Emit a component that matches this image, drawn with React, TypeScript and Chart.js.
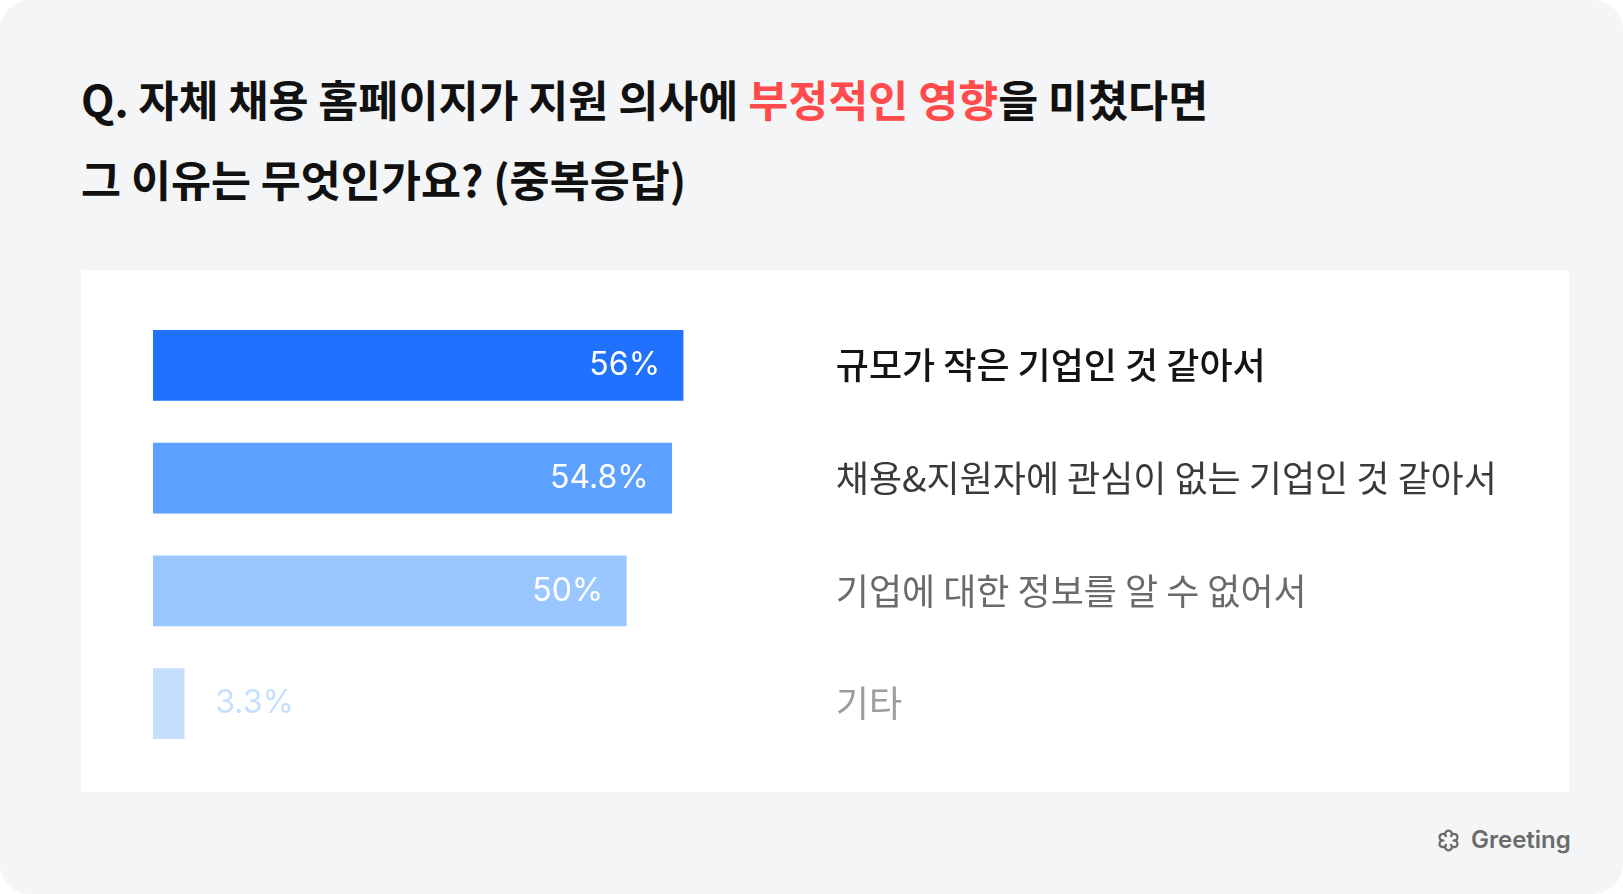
import React, { useEffect, useRef } from "react";
import { Chart, registerables } from "chart.js";

Chart.register(...registerables);

// ---- data ----
const categories = [
  "규모가 작은 기업인 것 같아서",
  "채용&지원자에 관심이 없는 기업인 것 같아서",
  "기업에 대한 정보를 알 수 없어서",
  "기타",
];
const values = [56, 54.8, 50, 3.3];
const barColors = ["#2171ff", "#5ca1ff", "#9ac7ff", "#c6dfff"];
const labelColors = ["#141414", "#3a3a3a", "#6a6a6a", "#9c9c9c"];
const valueLabelColors = ["#ffffff", "#ffffff", "#ffffff", "#c6dfff"];
const xMin = 0;
const xMax = 71.5;

const titleLine1Before = "Q. 자체 채용 홈페이지가 지원 의사에 ";
const titleHighlight = "부정적인 영향";
const titleLine1After = "을 미쳤다면";
const titleLine2 = "그 이유는 무엇인가요? (중복응답)";
const brandName = "Greeting";

const PANEL_W = 1488;
const PANEL_H = 522;
const PLOT_RIGHT = 748.8;

const valueLabelPlugin = {
  id: "valueLabels",
  afterDatasetsDraw(chart: any) {
    const ctx = chart.ctx;
    const meta = chart.getDatasetMeta(0);
    ctx.save();
    ctx.font = '400 32px Inter, "Noto Sans", sans-serif';
    ctx.textBaseline = "middle";
    meta.data.forEach((bar: any, i: number) => {
      const p = bar.getProps(["x", "y", "base"], true);
      const width = p.x - p.base;
      const inside = width > 120;
      ctx.fillStyle = valueLabelColors[i];
      ctx.textAlign = inside ? "right" : "left";
      ctx.fillText(values[i] + "%", inside ? p.x - 23 : p.x + 31, p.y);
    });
    ctx.restore();
  },
};

function flowerPath(): string {
  const cx = 12, cy = 11.5, rv = 5, r = 3.3;
  const n = 6;
  let d = "";
  for (let k = 0; k <= n; k++) {
    const a = ((-90 + 30 + (360 / n) * k) * Math.PI) / 180;
    const x = (cx + rv * Math.cos(a)).toFixed(2);
    const y = (cy + rv * Math.sin(a)).toFixed(2);
    if (k === 0) d += `M${x} ${y}`;
    else d += ` A${r} ${r} 0 1 1 ${x} ${y}`;
  }
  return d + " Z";
}

export default function App() {
  const canvasRef = useRef<HTMLCanvasElement | null>(null);

  useEffect(() => {
    const canvas = canvasRef.current;
    if (!canvas) return;
    const chart = new Chart(canvas, {
      type: "bar",
      data: {
        labels: categories,
        datasets: [
          {
            data: values,
            backgroundColor: barColors,
            borderWidth: 0,
            barThickness: 70,
          },
        ],
      },
      options: {
        indexAxis: "y",
        animation: false,
        responsive: false,
        devicePixelRatio: 1,
        layout: { padding: { left: 72, top: 39, bottom: 32, right: 0 } },
        plugins: {
          legend: { display: false },
          tooltip: { enabled: false },
          title: { display: false },
        },
        scales: {
          x: { display: false, min: xMin, max: xMax },
          y: {
            position: "right",
            grid: { display: false, drawTicks: false },
            border: { display: false },
            ticks: {
              padding: 6,
              autoSkip: false,
              color: (c: any) => labelColors[c.index],
              font: (c: any) => ({
                family: '"Noto Sans CJK KR", "Noto Sans", sans-serif',
                size: 36,
                weight: c.index === 0 ? 500 : 400,
              }),
            },
            afterFit: (s: any) => {
              s.width = PANEL_W - PLOT_RIGHT;
            },
          },
        },
      },
      plugins: [valueLabelPlugin],
    } as any);
    return () => chart.destroy();
  }, []);

  return (
    <div
      style={{
        position: "relative",
        width: 1623,
        height: 894,
        background: "#ffffff",
        overflow: "hidden",
        fontFamily: '"Noto Sans CJK KR", "Noto Sans", sans-serif',
      }}
    >
      <style>{`body{margin:0;}`}</style>
      <div
        style={{
          position: "absolute",
          left: 0,
          top: 0,
          width: 1623,
          height: 894,
          background: "#f4f5f7",
          borderRadius: 30,
        }}
      />
      <div
        style={{
          position: "absolute",
          left: 81,
          top: 59,
          fontSize: 43.5,
          lineHeight: "80px",
          fontWeight: 700,
          color: "#111111",
          whiteSpace: "nowrap",
        }}
      >
        <div>
          {titleLine1Before}
          <span style={{ color: "#ff4b4b" }}>{titleHighlight}</span>
          {titleLine1After}
        </div>
        <div>{titleLine2}</div>
      </div>
      <div
        style={{
          position: "absolute",
          left: 81,
          top: 270,
          width: PANEL_W,
          height: PANEL_H,
          background: "#ffffff",
        }}
      >
        <canvas
          ref={canvasRef}
          width={PANEL_W}
          height={PANEL_H}
          style={{ display: "block", width: PANEL_W, height: PANEL_H }}
        />
      </div>
      <svg
        style={{ position: "absolute", left: 1436, top: 829 }}
        width={25}
        height={23}
        viewBox="0 0 24 23"
      >
        <path d={flowerPath()} fill="none" stroke="#6b6b6b" strokeWidth={2.2} strokeLinejoin="round" />
      </svg>
      <div
        style={{
          position: "absolute",
          left: 1471,
          top: 828,
          fontFamily: 'Inter, "Noto Sans", sans-serif',
          fontSize: 24,
          lineHeight: "24px",
          fontWeight: 600,
          color: "#6b6b6b",
          whiteSpace: "nowrap",
        }}
      >
        {brandName}
      </div>
    </div>
  );
}
